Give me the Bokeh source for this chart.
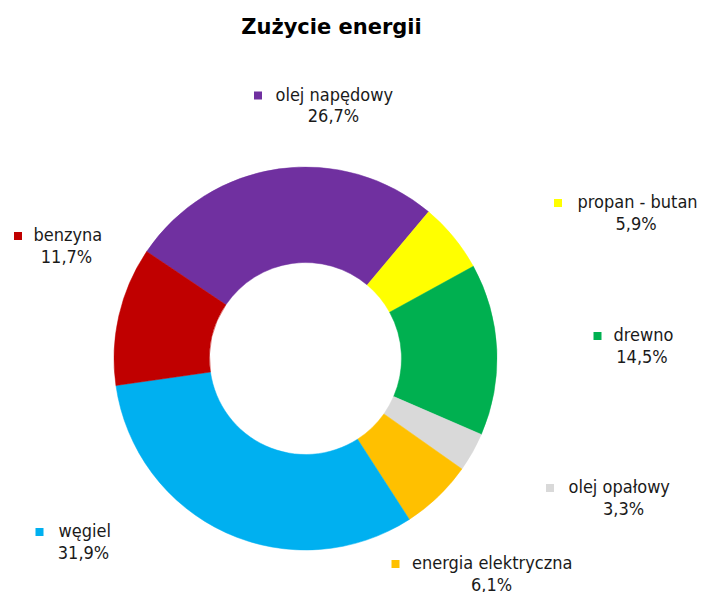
import math
from bokeh.plotting import figure
from bokeh.models import Range1d, ColumnDataSource
from bokeh.embed import file_html
from bokeh.resources import INLINE
from bokeh.core.properties import value

# ---------------- data ----------------
title_text = "Zużycie energii"
categories = ["olej napędowy", "propan - butan", "drewno", "olej opałowy",
              "energia elektryczna", "węgiel", "benzyna"]
shares = [26.7, 5.9, 14.5, 3.3, 6.1, 31.9, 11.7]
pct_labels = ["26,7%", "5,9%", "14,5%", "3,3%", "6,1%", "31,9%", "11,7%"]
colors = ["#7030A0", "#FFFF00", "#00B050", "#D9D9D9", "#FFC000", "#00B0F0", "#C00000"]

# ---------------- layout (picture pixels, y downward) ----------------
W, H = 701, 592
CX, CY = 305, 358
R_OUT, R_IN = 191.5, 96
FIRST_END = 40.0  # clockwise degrees from 12 o'clock where the first slice ends

key_x = [257.5, 557.5, 597, 549.5, 395, 39, 17.5]
name_x = [275, 577, 613, 568, 411.5, 58, 33]
row_y = [93.5, 201, 334, 486, 562, 530, 234]   # centre of first label line
pct_x = [333, 635.5, 641.5, 623, 491, 83, 66]
LINE_GAP = 21.5
TEXT_DROP = 0.0   # baseline offset of text relative to row centre (screen px)
TITLE_X, TITLE_Y = 331, 26

def yd(py):
    return H - py

total = sum(shares)
start_cw = FIRST_END - shares[0] / total * 360.0
starts, ends = [], []
cum = 0.0
for s in shares:
    th1 = start_cw + cum / total * 360.0
    th2 = start_cw + (cum + s) / total * 360.0
    starts.append(math.radians(90 - th1))
    ends.append(math.radians(90 - th2))
    cum += s

src = ColumnDataSource(dict(
    x=[CX] * len(shares), y=[yd(CY)] * len(shares),
    start=starts, end=ends, color=colors, cat=categories, share=shares,
))

p = figure(width=W, height=H, x_range=Range1d(0, W), y_range=Range1d(0, H),
           output_backend="svg", toolbar_location=None, min_border=0,
           x_axis_location=None, y_axis_location=None)
p.grid.visible = False
p.outline_line_color = None
p.background_fill_color = "white"

p.annular_wedge(x="x", y="y", inner_radius=R_IN, outer_radius=R_OUT,
                start_angle="start", end_angle="end", direction="clock",
                fill_color="color", line_color="color", line_width=0.5, source=src)

# legend keys
p.scatter(x=key_x, y=[yd(r + 1.5) for r in row_y], marker="square", size=8,
          fill_color=colors, line_color=None)

font = value("DejaVu Sans Condensed")
p.text(x=name_x, y=[yd(r + TEXT_DROP) for r in row_y], text=categories, text_font=font,
       text_font_size=value("18px"), text_align="left", text_baseline="alphabetic",
       text_color="#1a1a1a")
p.text(x=pct_x, y=[yd(r + TEXT_DROP + LINE_GAP) for r in row_y], text=pct_labels, text_font=font,
       text_font_size=value("18px"), text_align="center", text_baseline="alphabetic",
       text_color="#1a1a1a")

p.text(x=[TITLE_X], y=[yd(TITLE_Y)], text=[title_text], text_font=value("DejaVu Sans"),
       text_font_style="bold", text_font_size=value("21px"), text_align="center",
       text_baseline="alphabetic", text_color="#000000")

open("out.html", "w").write(file_html(p, INLINE))
